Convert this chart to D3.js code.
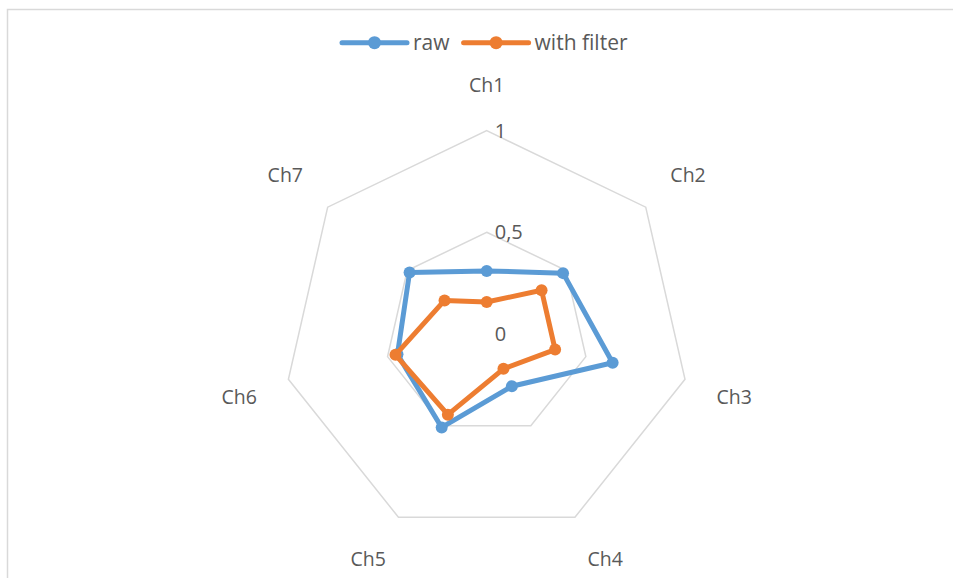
<!DOCTYPE html>
<html>
<head>
<meta charset="utf-8">
<script src="https://cdn.jsdelivr.net/npm/d3@7"></script>
<style>
  html, body { margin: 0; padding: 0; background: #fff; }
  svg { display: block; }
  text { font-family: "Open Sans", sans-serif; fill: #595959; }
</style>
</head>
<body>
<svg id="chart" width="953" height="578"></svg>
<script>
// Channels around the radar, clockwise from the top
const channels = ["Ch1", "Ch2", "Ch3", "Ch4", "Ch5", "Ch6", "Ch7"];
// Normalised signal per channel
const rawValues = [0.31, 0.48, 0.635, 0.285, 0.51, 0.45, 0.485];
const filteredValues = [0.157, 0.345, 0.345, 0.19, 0.44, 0.46, 0.265];
// Radial axis ticks and their printed labels
const tickValues = [0, 0.5, 1];
const tickLabels = ["0", "0,5", "1"];
const seriesNames = ["raw", "with filter"];
const seriesColors = ["#5B9BD5", "#ED7D31"];

const series = [
  { name: seriesNames[0], values: rawValues, color: seriesColors[0] },
  { name: seriesNames[1], values: filteredValues, color: seriesColors[1] }
];

const svg = d3.select("#chart");
const width = 953, height = 578;
const cx = 486.7, cy = 334, R = 203.4;

// chart-area border (runs off the right and bottom edges)
svg.append("rect")
  .attr("x", 7.5).attr("y", 9.5)
  .attr("width", width + 20).attr("height", height + 20)
  .attr("fill", "none").attr("stroke", "#D9D9D9").attr("stroke-width", 1.5);

const r = d3.scaleLinear().domain([0, 1]).range([0, R]);
const angle = d3.scalePoint()
  .domain(channels)
  .range([0, 2 * Math.PI * (channels.length - 1) / channels.length]);

const g = svg.append("g").attr("transform", `translate(${cx},${cy})`);

// polygonal grid rings
const ring = d3.lineRadial().curve(d3.curveLinearClosed);
g.selectAll("path.ring")
  .data(tickValues.filter(t => t > 0))
  .join("path")
  .attr("class", "ring")
  .attr("d", t => ring(channels.map(c => [angle(c), r(t)])))
  .attr("fill", "none")
  .attr("stroke", "#D9D9D9")
  .attr("stroke-width", 1.5);

// tick labels to the right of the top spoke
g.selectAll("text.tick")
  .data(tickValues)
  .join("text")
  .attr("class", "tick")
  .attr("x", 8)
  .attr("y", t => -r(t))
  .attr("dy", "0.35em")
  .style("font-size", "20px")
  .text((t, i) => tickLabels[i]);

// channel labels placed just outside each outer vertex
g.selectAll("text.axis")
  .data(channels)
  .join("text")
  .attr("class", "axis")
  .attr("text-anchor", "middle")
  .attr("dy", "0.35em")
  .style("font-size", "19.5px")
  .attr("x", c => {
    const s = Math.sin(angle(c));
    const side = Math.abs(s) < 1e-6 ? 0 : Math.sign(s);
    return (r(1) + 35) * s + 15 * side;
  })
  .attr("y", c => {
    const co = -Math.cos(angle(c));
    return (r(1) + 35) * co + 10 * Math.sign(co);
  })
  .text(c => c);

// data series
const line = d3.lineRadial().curve(d3.curveLinearClosed);
series.forEach(s => {
  const pts = channels.map((c, i) => [angle(c), r(s.values[i])]);
  g.append("path")
    .attr("d", line(pts))
    .attr("fill", "none")
    .attr("stroke", s.color)
    .attr("stroke-width", 5)
    .attr("stroke-linejoin", "round");
  g.selectAll(null)
    .data(pts)
    .join("circle")
    .attr("cx", d => d[1] * Math.sin(d[0]))
    .attr("cy", d => -d[1] * Math.cos(d[0]))
    .attr("r", 6)
    .attr("fill", s.color);
});

// legend
const legend = svg.append("g").attr("transform", "translate(342,42.7)");
const legendX = [0, 121.6];
series.forEach((s, i) => {
  const lg = legend.append("g").attr("transform", `translate(${legendX[i]},0)`);
  lg.append("line")
    .attr("x1", 0).attr("x2", 65).attr("y1", 0).attr("y2", 0)
    .attr("stroke", s.color).attr("stroke-width", 5).attr("stroke-linecap", "round");
  lg.append("circle").attr("cx", 32.5).attr("cy", 0).attr("r", 6.5).attr("fill", s.color);
  lg.append("text")
    .attr("x", 71).attr("y", 0).attr("dy", "0.35em")
    .style("font-size", "21px")
    .text(s.name);
});
</script>
</body>
</html>
